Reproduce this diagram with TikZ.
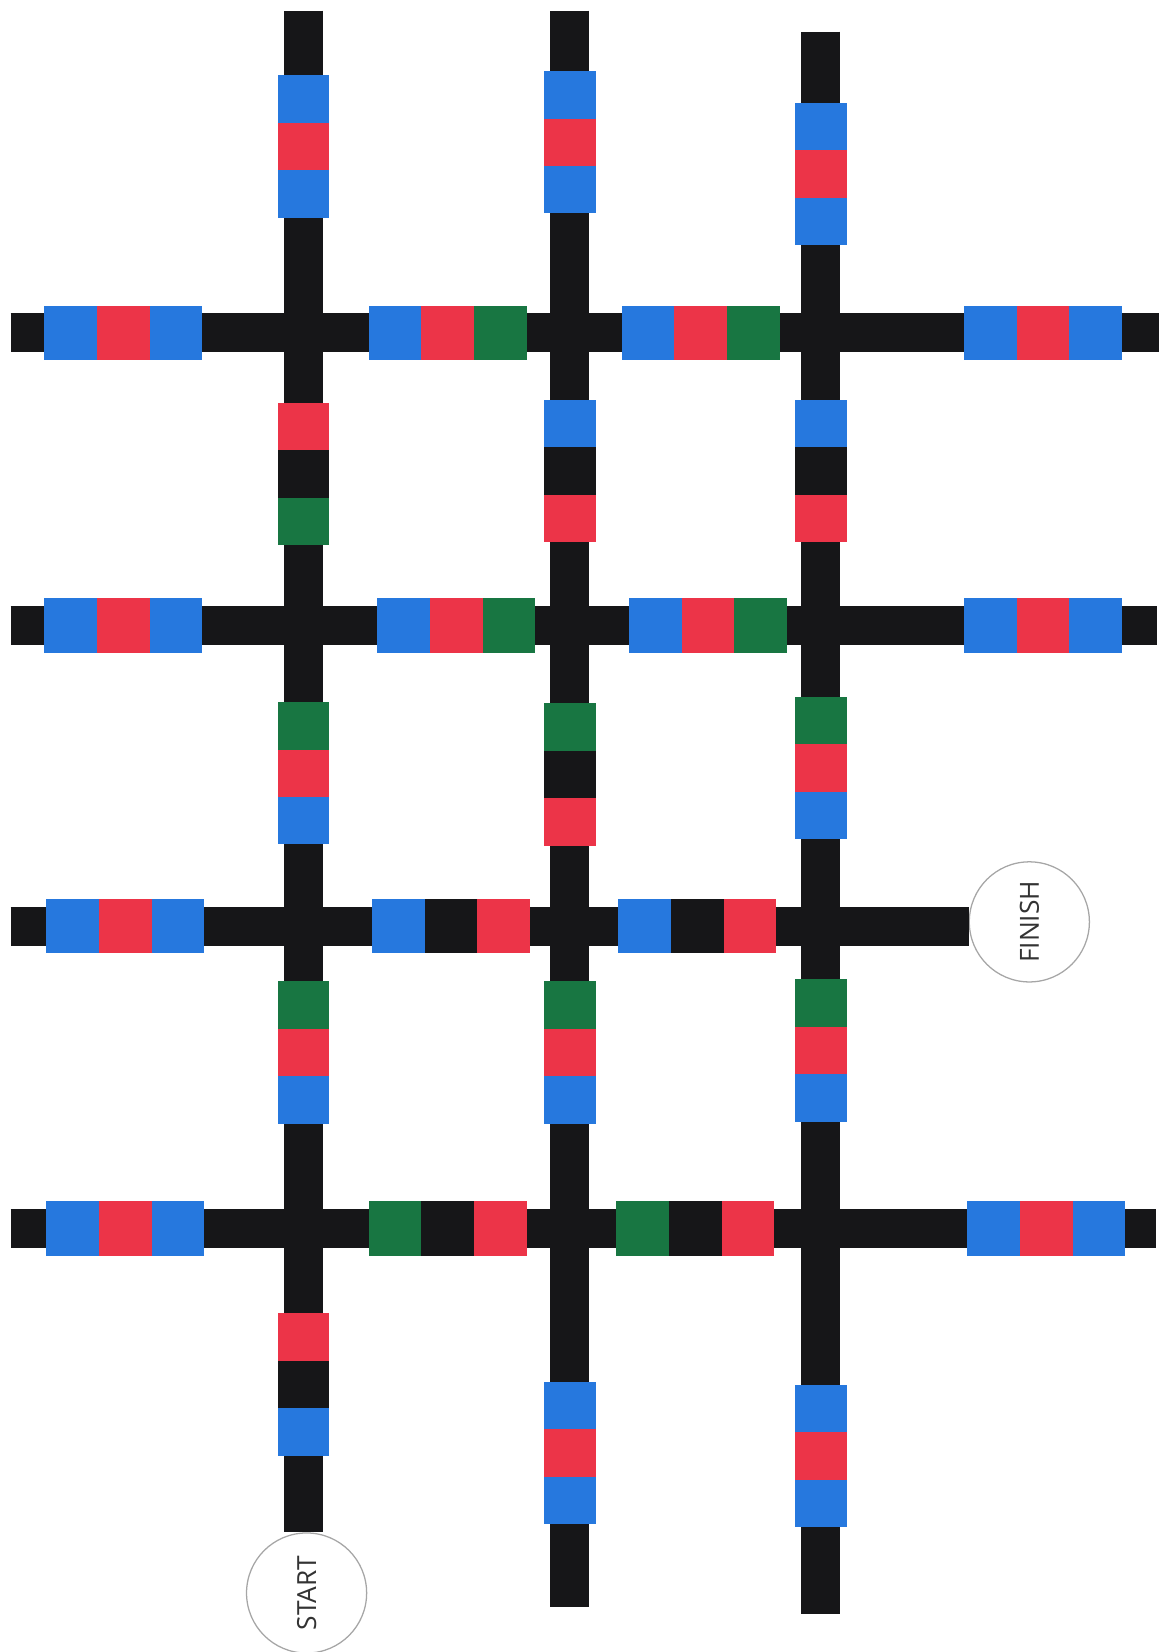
\documentclass[tikz,border=0pt]{standalone}
\usepackage{fontspec}
\setsansfont{Open Sans}
\usepackage{tikz}
\usetikzlibrary{positioning}
\definecolor{TramoNegro}{RGB}{22,22,24}
\definecolor{BloqueAzul}{RGB}{38,120,222}
\definecolor{BloqueRojo}{RGB}{236,52,72}
\definecolor{BloqueVerde}{RGB}{24,118,66}
\colorlet{azul}{BloqueAzul}
\colorlet{rojo}{BloqueRojo}
\colorlet{verde}{BloqueVerde}
\colorlet{negro}{TramoNegro}

\tikzset{
  tramo/.style={line width=18.5pt, TramoNegro},
  hbloque/.style={rectangle, fill=#1, minimum width=25pt, minimum height=26pt, inner sep=0pt, outer sep=0pt},
  vbloque/.style={rectangle, fill=#1, minimum width=24.5pt, minimum height=22.5pt, inner sep=0pt, outer sep=0pt},
  meta/.style={circle, draw=gray!70, line width=0.6pt, fill=white, minimum size=57pt, inner sep=0pt,
    font=\sffamily\fontsize{12.5}{14}\selectfont, text=black!80}
}

\begin{document}
\begin{tikzpicture}[x=0.5pt, y=-0.5pt]
  \useasboundingbox (0,0) rectangle (1101,1568);

  % puntos extremos de los tramos
  \coordinate (c1n) at (288,10);
  \coordinate (c2n) at (541,10);
  \coordinate (c2s) at (541,1525);
  \coordinate (c3n) at (779,30);
  \coordinate (c3s) at (779,1532);
  \coordinate (f1w) at (10,316);
  \coordinate (f1e) at (1100,316);
  \coordinate (f2w) at (10,594);
  \coordinate (f2e) at (1098,594);
  \coordinate (f3w) at (10,879);
  \coordinate (f4w) at (10,1166);
  \coordinate (f4e) at (1097,1166);

  \node[meta] (start) at (291,1512) {\rotatebox{90}{START}};
  \node[meta] (finish) at (977,875) {\rotatebox{90}{FINISH}};

  % tramos
  \draw[tramo] (c1n) -- (c1n |- start.north);
  \draw[tramo] (c2n) -- (c2s);
  \draw[tramo] (c3n) -- (c3s);
  \draw[tramo] (f1w) -- (f1e);
  \draw[tramo] (f2w) -- (f2e);
  \draw[tramo] (f3w) -- (f3w -| finish.west);
  \draw[tramo] (f4w) -- (f4e);

  % bloques horizontales
  \foreach \nom/\x/\y/\a/\b/\c in {
      h11/67/316/azul/rojo/azul, h12/375/316/azul/rojo/verde, h13/615/316/azul/rojo/verde, h14/940/316/azul/rojo/azul,
      h21/67/594/azul/rojo/azul, h22/383/594/azul/rojo/verde, h23/622/594/azul/rojo/verde, h24/940/594/azul/rojo/azul,
      h31/69/879/azul/rojo/azul, h32/378/879/azul/negro/rojo, h33/612/879/azul/negro/rojo,
      h41/69/1166/azul/rojo/azul, h42/375/1166/verde/negro/rojo, h43/610/1166/verde/negro/rojo, h44/943/1166/azul/rojo/azul}
  {
    \node[hbloque=\a] (\nom-a) at (\x,\y) {};
    \node[hbloque=\b, right=0pt of \nom-a] (\nom-b) {};
    \node[hbloque=\c, right=0pt of \nom-b] (\nom-c) {};
  }

  % bloques verticales
  \foreach \nom/\x/\y/\a/\b/\c in {
      v10/288/94/azul/rojo/azul, v11/288/405/rojo/negro/verde, v12/288/689/verde/rojo/azul, v13/288/954/verde/rojo/azul, v14/288/1269/rojo/negro/azul,
      v20/541/90/azul/rojo/azul, v21/541/402/azul/negro/rojo, v22/541/690/verde/negro/rojo, v23/541/954/verde/rojo/azul, v24/541/1334/azul/rojo/azul,
      v30/779/120/azul/rojo/azul, v31/779/402/azul/negro/rojo, v32/779/684/verde/rojo/azul, v33/779/952/verde/rojo/azul, v34/779/1337/azul/rojo/azul}
  {
    \node[vbloque=\a] (\nom-a) at (\x,\y) {};
    \node[vbloque=\b, below=0pt of \nom-a] (\nom-b) {};
    \node[vbloque=\c, below=0pt of \nom-b] (\nom-c) {};
  }
\end{tikzpicture}
\end{document}
